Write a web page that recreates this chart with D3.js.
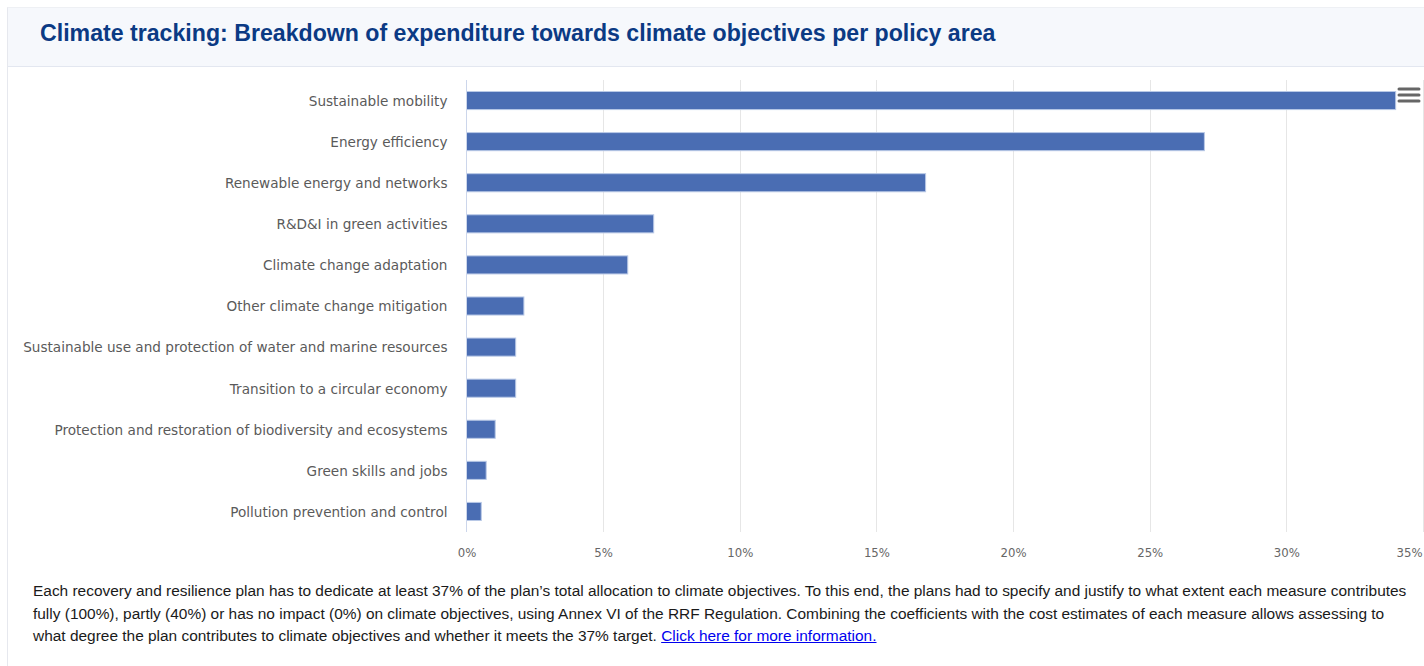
<!DOCTYPE html>
<html>
<head>
<meta charset="utf-8">
<script src="https://cdn.jsdelivr.net/npm/d3@7"></script>
<style>
  html, body { margin: 0; padding: 0; background: #fff; }
  body { width: 1424px; height: 666px; overflow: hidden; position: relative; }
  .card { position: absolute; left: 7px; top: 7px; width: 1430px; height: 680px; border-left: 1px solid #e6e8ee; border-top: 1px solid #eef0f4; }
  .header { height: 58px; background: #f6f8fc; border-bottom: 1px solid #e3e7f0; }
  .header h2 { margin: 0; padding: 0 0 0 32px; font: bold 23.15px "Liberation Sans", Arial, sans-serif; line-height: 50px; color: #0b3a84; }
  svg { position: absolute; left: 0; top: 0; }
  .note { position: absolute; left: 33px; top: 580px; font: 15.45px "Liberation Sans", Arial, sans-serif; line-height: 22.6px; color: #1a1a1a; white-space: nowrap; }
  .note a { color: #0000ee; text-decoration: underline; }
</style>
</head>
<body>
<div class="card">
  <div class="header"><h2>Climate tracking: Breakdown of expenditure towards climate objectives per policy area</h2></div>
</div>
<svg id="chart" width="1424" height="575"></svg>
<div class="note">Each recovery and resilience plan has to dedicate at least 37% of the plan’s total allocation to climate objectives. To this end, the plans had to specify and justify to what extent each measure contributes<br>fully (100%), partly (40%) or has no impact (0%) on climate objectives, using Annex VI of the RRF Regulation. Combining the coefficients with the cost estimates of each measure allows assessing to<br>what degree the plan contributes to climate objectives and whether it meets the 37% target. <a href="#">Click here for more information.</a></div>
<script>
// Policy areas and their share of climate expenditure (%)
const categories = [
  "Sustainable mobility",
  "Energy efficiency",
  "Renewable energy and networks",
  "R&D&I in green activities",
  "Climate change adaptation",
  "Other climate change mitigation",
  "Sustainable use and protection of water and marine resources",
  "Transition to a circular economy",
  "Protection and restoration of biodiversity and ecosystems",
  "Green skills and jobs",
  "Pollution prevention and control"
];
const shares = [34.0, 27.0, 16.8, 6.85, 5.9, 2.1, 1.8, 1.8, 1.05, 0.72, 0.54];
const tickValues = [0, 5, 10, 15, 20, 25, 30, 35];

const svg = d3.select("#chart");
const plotLeft = 466.5, plotRight = 1423, plotTop = 80, plotBottom = 532;

const x = d3.scaleLinear().domain([0, 35]).range([plotLeft, plotRight]);
const y = d3.scaleBand().domain(categories).range([plotTop, plotBottom]).paddingInner(0.56).paddingOuter(0.28);

// vertical grid lines
svg.append("g").selectAll("line").data(tickValues.slice(1)).join("line")
  .attr("x1", d => Math.round(x(d)) + 0.5).attr("x2", d => Math.round(x(d)) + 0.5)
  .attr("y1", plotTop).attr("y2", plotBottom)
  .attr("stroke", "#e6e6e6").attr("stroke-width", 1);

// bars
svg.append("g").selectAll("rect").data(categories).join("rect")
  .attr("x", plotLeft)
  .attr("y", d => y(d))
  .attr("width", (d, i) => x(shares[i]) - plotLeft)
  .attr("height", y.bandwidth())
  .attr("fill", "#4a6db3")
  .attr("stroke", "#b8c8e6").attr("stroke-width", 1);

// category axis line
svg.append("line")
  .attr("x1", plotLeft).attr("x2", plotLeft).attr("y1", plotTop).attr("y2", plotBottom)
  .attr("stroke", "#ccd6eb").attr("stroke-width", 1);

// category labels
const yAxis = d3.axisLeft(y).tickSize(0).tickPadding(19);
const yg = svg.append("g").attr("transform", `translate(${plotLeft},1)`).call(yAxis);
yg.select(".domain").remove();
yg.selectAll("text")
  .attr("font-family", "'DejaVu Sans', Verdana, sans-serif")
  .attr("font-size", "13.6px").attr("fill", "#5a5a5a");

// value axis labels
const xAxis = d3.axisBottom(x).tickValues(tickValues).tickSize(0).tickPadding(16).tickFormat(d => d + "%");
const xg = svg.append("g").attr("transform", `translate(0,${plotBottom})`).call(xAxis);
xg.select(".domain").remove();
xg.selectAll("text")
  .attr("font-family", "'DejaVu Sans Condensed', 'DejaVu Sans', sans-serif")
  .attr("font-size", "13px").attr("fill", "#666");
xg.selectAll(".tick").filter(d => d === 35).select("text").attr("text-anchor", "end").attr("dx", "-1");

// context menu icon
const menu = svg.append("g").attr("transform", "translate(1399,88)");
[0, 6, 12].forEach(dy => menu.append("line")
  .attr("x1", 0).attr("x2", 20).attr("y1", dy + 1).attr("y2", dy + 1)
  .attr("stroke", "#666").attr("stroke-width", 3).attr("stroke-linecap", "round"));
</script>
</body>
</html>
